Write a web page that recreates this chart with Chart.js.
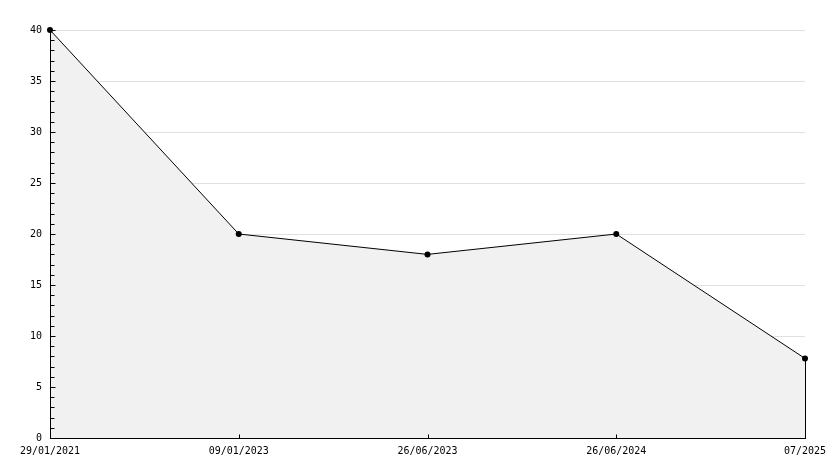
<!DOCTYPE html>
<html>
<head>
<meta charset="utf-8">
<script src="https://cdn.jsdelivr.net/npm/chart.js@4"></script>
<style>
  html, body { margin: 0; padding: 0; background: #fff; }
  #wrap { width: 834px; height: 468px; }
</style>
</head>
<body>
<div id="wrap"><canvas id="chart" width="834" height="468"></canvas></div>
<script>
var dates = ["29/01/2021", "09/01/2023", "26/06/2023", "26/06/2024", "07/2025"];
var values = [40, 20, 18, 20, 7.8];
var yMin = 0, yMax = 40, yStep = 5, yMinorStep = 1;

// axis lines and ticks inside the plot, plus the closing edge of the filled area
const insideTicks = {
    id: 'insideTicks',
    afterDatasetsDraw(chart) {
        const ctx = chart.ctx;
        const x = chart.scales.x, y = chart.scales.y;
        const pts = chart.getDatasetMeta(0).data;
        const last = pts[pts.length - 1];
        let ax = Math.round(x.left) + 0.5;
        let ay = Math.round(y.bottom) + 0.5;
        ctx.save();
        ctx.strokeStyle = '#000';
        ctx.lineWidth = 1;
        ctx.beginPath();
        ctx.moveTo(ax, y.top);
        ctx.lineTo(ax, ay);
        ctx.lineTo(x.right, ay);
        for (let v = yMin; v <= yMax; v += yMinorStep) {
            let py = Math.round(y.getPixelForValue(v)) + 0.5;
            let len = (v % yStep == 0) ? 5 : 4;
            ctx.moveTo(ax, py);
            ctx.lineTo(ax + len, py);
        }
        for (let i = 0; i < dates.length; i++) {
            let px = Math.round(x.getPixelForValue(i)) + 0.5;
            ctx.moveTo(px, ay);
            ctx.lineTo(px, ay - 4);
        }
        let lx = Math.round(last.x) + 0.5;
        ctx.moveTo(lx, last.y);
        ctx.lineTo(lx, ay);
        ctx.stroke();
        ctx.restore();
    }
};

new Chart(document.getElementById('chart'), {
    type: 'line',
    data: {
        labels: dates,
        datasets: [{
            data: values,
            borderColor: '#000',
            borderWidth: 1,
            backgroundColor: '#f1f1f1',
            fill: 'origin',
            tension: 0,
            clip: false,
            pointRadius: 3,
            pointHoverRadius: 3,
            pointBackgroundColor: '#000',
            pointBorderColor: '#000',
            pointBorderWidth: 0
        }]
    },
    options: {
        responsive: false,
        animation: false,
        events: [],
        layout: { padding: { top: 30, right: 29, left: 0, bottom: 0 } },
        plugins: { legend: { display: false }, tooltip: { enabled: false } },
        scales: {
            x: {
                offset: false,
                grid: { display: false, drawTicks: false },
                border: { display: true, color: '#000', width: 1 },
                ticks: {
                    color: '#000',
                    font: { family: 'DejaVu Sans Mono', size: 10 },
                    padding: 7,
                    maxRotation: 0,
                    autoSkip: false
                },
                afterFit(scale) { scale.height = 30; }
            },
            y: {
                min: yMin,
                max: yMax,
                grid: { color: '#e0e0e0', drawTicks: false },
                border: { display: true, color: '#000', width: 1 },
                ticks: {
                    stepSize: yStep,
                    color: '#000',
                    font: { family: 'DejaVu Sans Mono', size: 10 },
                    padding: 8
                },
                afterFit(scale) { scale.width = 50; }
            }
        }
    },
    plugins: [insideTicks]
});
</script>
</body>
</html>
